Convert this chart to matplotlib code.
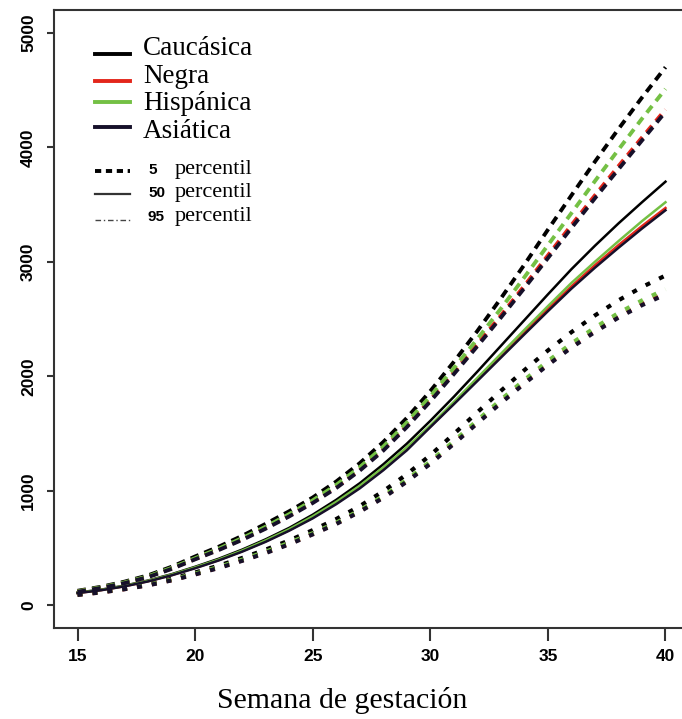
import numpy as np
import matplotlib.pyplot as plt
from matplotlib.lines import Line2D

semanas = list(range(15, 41))

# peso fetal estimado (g) por semana: curva superior, mediana e inferior
cau_sup = [125, 160, 205, 260, 335, 425, 510, 605, 710, 820, 940, 1080, 1240, 1425,
           1635, 1870, 2125, 2395, 2680, 2975, 3280, 3580, 3875, 4160, 4435, 4700]
cau_med = [110, 135, 170, 215, 270, 335, 405, 485, 575, 675, 790, 920, 1065, 1230,
           1410, 1610, 1820, 2040, 2265, 2490, 2715, 2935, 3140, 3335, 3520, 3700]
cau_inf = [95, 118, 148, 185, 230, 285, 345, 412, 485, 565, 655, 752, 865, 995,
           1143, 1310, 1495, 1685, 1872, 2053, 2225, 2385, 2531, 2663, 2779, 2880]

neg_sup = [118, 152, 195, 248, 320, 404, 486, 576, 675, 782, 900, 1032, 1185, 1362,
           1570, 1795, 2035, 2280, 2530, 2790, 3055, 3320, 3580, 3835, 4085, 4330]
neg_med = [106, 131, 165, 209, 262, 325, 393, 471, 558, 655, 765, 890, 1030, 1188,
           1362, 1560, 1762, 1968, 2175, 2382, 2587, 2785, 2970, 3145, 3312, 3470]
neg_inf = [90, 112, 140, 175, 218, 270, 327, 390, 459, 536, 621, 713, 820, 943,
           1084, 1242, 1417, 1597, 1775, 1946, 2109, 2262, 2400, 2525, 2634, 2730]

his_sup = [120, 155, 198, 252, 325, 410, 493, 585, 685, 795, 915, 1050, 1205, 1385,
           1595, 1825, 2070, 2325, 2590, 2865, 3145, 3425, 3705, 3980, 4250, 4510]
his_med = [108, 133, 168, 212, 266, 330, 398, 477, 566, 664, 776, 902, 1043, 1203,
           1378, 1570, 1775, 1985, 2195, 2405, 2612, 2815, 3000, 3180, 3355, 3520]
his_inf = [92, 114, 143, 178, 222, 275, 333, 397, 467, 545, 628, 720, 828, 953,
           1095, 1255, 1432, 1614, 1794, 1967, 2132, 2286, 2425, 2552, 2662, 2760]

asi_sup = [116, 150, 192, 245, 316, 400, 481, 570, 668, 775, 892, 1023, 1175, 1350,
           1555, 1780, 2018, 2262, 2512, 2770, 3032, 3295, 3555, 3808, 4060, 4310]
asi_med = [105, 130, 164, 207, 260, 322, 390, 467, 553, 650, 758, 882, 1020, 1178,
           1352, 1555, 1755, 1958, 2162, 2366, 2568, 2765, 2948, 3122, 3290, 3450]
asi_inf = [89, 111, 139, 173, 216, 268, 324, 387, 455, 531, 618, 709, 816, 938,
           1078, 1235, 1409, 1589, 1765, 1936, 2098, 2250, 2387, 2512, 2621, 2715]

grupos = ['Caucásica', 'Negra', 'Hispánica', 'Asiática']
colores = ['#000000', '#e3261b', '#74c044', '#16102a']
curvas = [(cau_sup, cau_med, cau_inf), (neg_sup, neg_med, neg_inf),
          (his_sup, his_med, his_inf), (asi_sup, asi_med, asi_inf)]

W, H = 682, 719
fig = plt.figure(figsize=(W / 100, H / 100), dpi=100)
ax = fig.add_axes([54 / W, 91 / H, 635 / W, 618 / H])

for col, (sup, med, inf) in zip(colores, curvas):
    ax.plot(semanas, sup, color=col, lw=2.8, dashes=(2.2, 1.6))
    ax.plot(semanas, med, color=col, lw=1.8)
    ax.plot(semanas, inf, color=col, lw=3.0, dashes=(1.2, 2.4))

ax.set_xlim(14, 41)
ax.set_ylim(-200, 5200)
ax.set_xticks([15, 20, 25, 30, 35, 40])
ax.set_yticks([0, 1000, 2000, 3000, 4000, 5000])

for s in ['left', 'bottom', 'top']:
    ax.spines[s].set_linewidth(1.5)
    ax.spines[s].set_color('#333333')
ax.spines['right'].set_visible(False)
ax.tick_params(width=1.5, color='#333333', direction='out', labelsize=12.5)
ax.tick_params(axis='x', length=9, pad=6)
ax.tick_params(axis='y', length=5, pad=8)
for lab in ax.get_xticklabels() + ax.get_yticklabels():
    lab.set_fontfamily('Liberation Sans')
    lab.set_fontweight('bold')
plt.setp(ax.get_yticklabels(), rotation=90, va='center')

fig.text(342 / W, 1 - 700 / H, 'Semana de gestación', family='Liberation Serif',
         fontsize=21.5, ha='center', va='center')


def px(x, y):
    return x / W, 1 - y / H


# leyenda dibujada a mano
filas = [54, 81, 102, 127]
bases = [55, 83, 110, 138]
for nombre, col, yl, yb in zip(grupos, colores, filas, bases):
    fig.add_artist(Line2D(*zip(px(95, yl), px(130, yl)), color=col, lw=2.8,
                          transform=fig.transFigure))
    fig.text(*px(143, yb), nombre, family='Liberation Serif', fontsize=19.5,
             va='baseline')

estilos = [dict(color='#000000', lw=2.8, dashes=(1.6, 1.2)),
           dict(color='#333333', lw=1.6),
           dict(color='#444444', lw=1.0, dashes=(4, 2, 1, 2))]
for num, est, yl, yb in zip(['5', '50', '95'], estilos, [171, 194, 220],
                            [174, 197, 221]):
    fig.add_artist(Line2D(*zip(px(95, yl), px(130, yl)),
                          transform=fig.transFigure, **est))
    fig.text(*px(148, yb), num, family='Liberation Sans', fontweight='bold',
             fontsize=11, va='baseline')
    fig.text(*px(175, yb), 'percentil', family='Liberation Serif', fontsize=16,
             va='baseline')

fig.savefig('out.png', dpi=100)
